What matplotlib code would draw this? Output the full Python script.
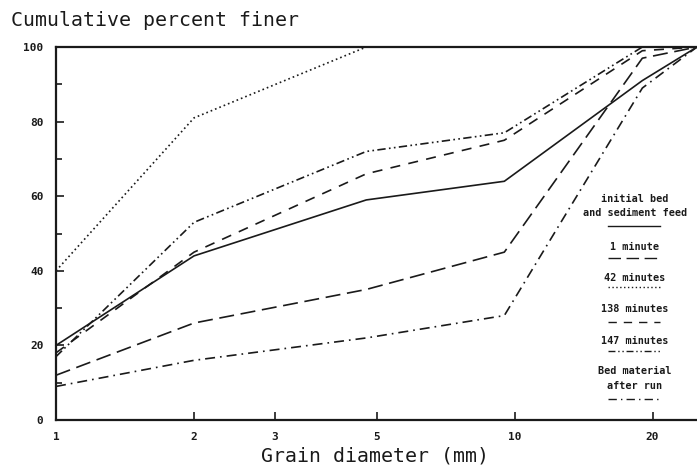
import numpy as np
import matplotlib
matplotlib.use("Agg")
import matplotlib.pyplot as plt
from matplotlib.ticker import FixedLocator, NullLocator, MultipleLocator, FixedFormatter

# sieve sizes (mm) and cumulative percent finer
sizes = [1, 2, 4.75, 9.5, 19, 25]
initial_bed = [20, 44, 59, 64, 91, 100]
min_1 = [12, 26, 35, 45, 97, 100]
min_42 = [40, 81, 100, 100, 100, 100]
min_138 = [18, 45, 66, 75, 99, 100]
min_147 = [17, 53, 72, 77, 100, 100]
bed_after = [9, 16, 22, 28, 89, 100]

xticks = [1, 2, 3, 5, 10, 20]
xtick_labels = ["1", "2", "3", "5", "10", "20"]

series = [
    (["initial bed", "and sediment feed"], initial_bed, "-"),
    (["1 minute"], min_1, (0, (9, 4))),
    (["42 minutes"], min_42, (0, (1, 1.8))),
    (["138 minutes"], min_138, (0, (6, 5))),
    (["147 minutes"], min_147, (0, (5, 2, 1, 2, 1, 2))),
    (["Bed material", "after run"], bed_after, (0, (6, 3, 1, 3))),
]

MONO = "DejaVu Sans Mono"
INK = "#1a1a1a"

fig = plt.figure(figsize=(6.97, 4.67), dpi=100)
ax = fig.add_axes([56 / 697, 1 - 420 / 467, 641 / 697, 373 / 467])

for labels, vals, ls in series:
    ax.plot(sizes, vals, color=INK, lw=1.2, linestyle=ls, clip_on=False)

ax.set_xscale("log")
ax.set_xlim(1, 25)
ax.set_ylim(0, 100)

ax.xaxis.set_major_locator(FixedLocator(xticks))
ax.xaxis.set_major_formatter(FixedFormatter(xtick_labels))
ax.xaxis.set_minor_locator(NullLocator())
ax.yaxis.set_major_locator(MultipleLocator(20))
ax.yaxis.set_minor_locator(MultipleLocator(10))

ax.tick_params(which="major", direction="in", length=6, width=1.2, colors=INK,
               labelsize=8, pad=9)
ax.tick_params(which="minor", direction="in", length=4, width=1.2, colors=INK)
for lab in ax.get_xticklabels() + ax.get_yticklabels():
    lab.set_family(MONO)
    lab.set_fontweight("bold")

for side in ["left", "bottom", "top"]:
    ax.spines[side].set_linewidth(1.6)
    ax.spines[side].set_color(INK)
ax.spines["right"].set_visible(False)

# hand-built legend on the right, text above each line sample
text_rows = {
    0: [199, 213], 1: [247], 2: [278], 3: [309], 4: [341], 5: [371, 386],
}
sample_rows = [226, 258, 287, 322, 351, 399]
cx = (635 - 56) / 641
x0, x1 = (608 - 56) / 641, (660 - 56) / 641
for i, (labels, vals, ls) in enumerate(series):
    for lab, py in zip(labels, text_rows[i]):
        ax.text(cx, (420 - py) / 373, lab, transform=ax.transAxes, ha="center",
                va="center", family=MONO, fontsize=7.3, fontweight="bold", color=INK)
    sy = (420 - sample_rows[i]) / 373
    ax.plot([x0, x1], [sy, sy], transform=ax.transAxes, color=INK, lw=1.0,
            linestyle=ls)

fig.text(11 / 697, 1 - 20 / 467, "Cumulative percent finer", family=MONO,
         fontsize=14.3, color=INK, ha="left", va="center")
fig.text(375 / 697, 1 - 456 / 467, "Grain diameter (mm)", family=MONO,
         fontsize=14.3, color=INK, ha="center", va="center")

fig.savefig("out.png", dpi=100, facecolor="white")
